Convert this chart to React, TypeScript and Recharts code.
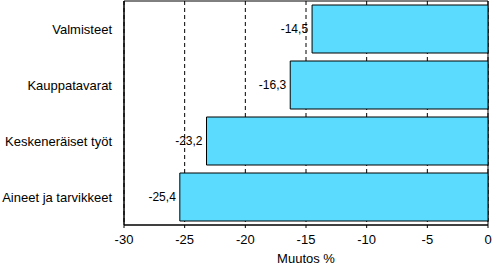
import React from "react";
import {
  BarChart,
  Bar,
  XAxis,
  YAxis,
  CartesianGrid,
  LabelList,
  ReferenceArea,
} from "recharts";

const categories = [
  "Valmisteet",
  "Kauppatavarat",
  "Keskeneräiset työt",
  "Aineet ja tarvikkeet",
];
const changes = [-14.5, -16.3, -23.2, -25.4];
const xTicks = [-30, -25, -20, -15, -10, -5, 0];

const data = categories.map((name, i) => ({ name, value: changes[i] }));

const font = "Arial, 'Liberation Sans', sans-serif";

// category labels on one line, right aligned against the axis
const CategoryTick = (props: any) => {
  const { x, y, payload } = props;
  return (
    <text x={x} y={y} dy="0.4em" textAnchor="end" fill="#000" fontSize={13}>
      {payload.value}
    </text>
  );
};

// value label just left of the bar's end
const ValueLabel = (props: any) => {
  const { x, y, width, height, value } = props;
  const left = Math.min(x, x + width);
  return (
    <text
      x={left - 4}
      y={y + height / 2}
      dy="0.35em"
      textAnchor="end"
      fill="#000"
      fontSize={12}
    >
      {String(value).replace(".", ",")}
    </text>
  );
};

export default function App() {
  return (
    <div style={{ position: "absolute", left: 0, top: 0, background: "#fff" }}>
      <BarChart
        width={492}
        height={268}
        data={data}
        layout="vertical"
        margin={{ top: 1, right: 4, bottom: 0, left: 0 }}
        style={{ fontFamily: font }}
      >
        <CartesianGrid
          horizontal={false}
          stroke="#000"
          strokeDasharray="4 3"
        />
        <XAxis
          type="number"
          domain={[-30, 0]}
          ticks={xTicks}
          height={43}
          axisLine={{ stroke: "#000" }}
          tickLine={{ stroke: "#000" }}
          tickSize={3}
          tickMargin={7}
          tick={{ fill: "#000", fontSize: 13 }}
          label={{
            value: "Muutos %",
            position: "insideBottom",
            offset: 5,
            fill: "#000",
            fontSize: 13,
          }}
        />
        <YAxis
          type="category"
          dataKey="name"
          width={124}
          axisLine={{ stroke: "#000" }}
          tickLine={false}
          tickSize={0}
          tickMargin={12}
          tick={<CategoryTick />}
        />
        <ReferenceArea
          x1={-30}
          x2={0}
          fill="none"
          stroke="#000"
          strokeWidth={1}
        />
        <Bar
          dataKey="value"
          fill="#5bdcff"
          stroke="#000"
          strokeWidth={1}
          barSize={48}
          isAnimationActive={false}
        >
          <LabelList dataKey="value" content={<ValueLabel />} />
        </Bar>
      </BarChart>
    </div>
  );
}
